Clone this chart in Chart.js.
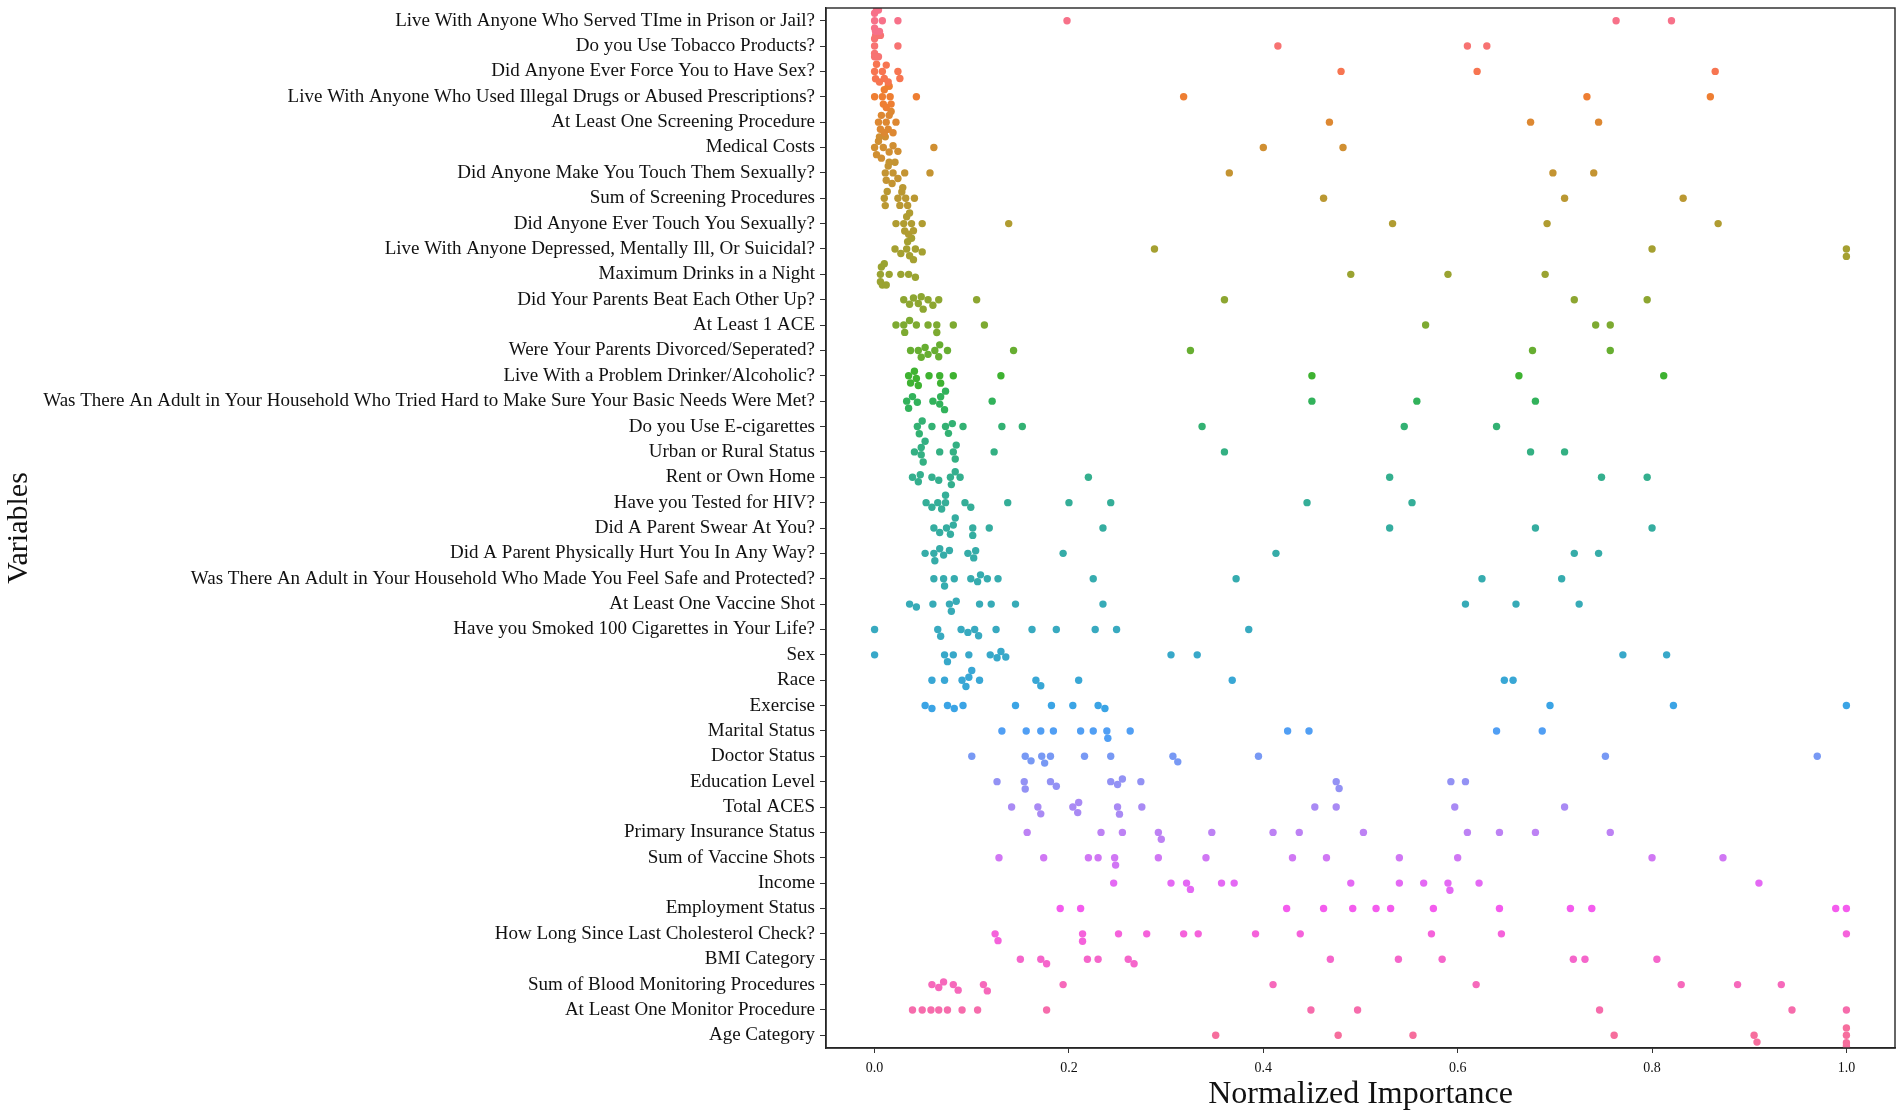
<!DOCTYPE html>
<html>
<head>
<meta charset="utf-8">
<script src="https://cdn.jsdelivr.net/npm/chart.js@4.4.1/dist/chart.umd.min.js"></script>
<style>
  html, body { margin: 0; padding: 0; background: #ffffff; }
  #wrap { width: 1902px; height: 1118px; }
</style>
</head>
<body>
<div id="wrap"><canvas id="swarmChart"></canvas></div>
<script>
// variable names, top to bottom
const variables = [
  "Live With Anyone Who Served TIme in Prison or Jail?",
  "Do you Use Tobacco Products?",
  "Did Anyone Ever Force You to Have Sex?",
  "Live With Anyone Who Used Illegal Drugs or Abused Prescriptions?",
  "At Least One Screening Procedure",
  "Medical Costs",
  "Did Anyone Make You Touch Them Sexually?",
  "Sum of Screening Procedures",
  "Did Anyone Ever Touch You Sexually?",
  "Live With Anyone Depressed, Mentally Ill, Or Suicidal?",
  "Maximum Drinks in a Night",
  "Did Your Parents Beat Each Other Up?",
  "At Least 1 ACE",
  "Were Your Parents Divorced/Seperated?",
  "Live With a Problem Drinker/Alcoholic?",
  "Was There An Adult in Your Household Who Tried Hard to Make Sure Your Basic Needs Were Met?",
  "Do you Use E-cigarettes",
  "Urban or Rural Status",
  "Rent or Own Home",
  "Have you Tested for HIV?",
  "Did A Parent Swear At You?",
  "Did A Parent Physically Hurt You In Any Way?",
  "Was There An Adult in Your Household Who Made You Feel Safe and Protected?",
  "At Least One Vaccine Shot",
  "Have you Smoked 100 Cigarettes in Your Life?",
  "Sex",
  "Race",
  "Exercise",
  "Marital Status",
  "Doctor Status",
  "Education Level",
  "Total ACES",
  "Primary Insurance Status",
  "Sum of Vaccine Shots",
  "Income",
  "Employment Status",
  "How Long Since Last Cholesterol Check?",
  "BMI Category",
  "Sum of Blood Monitoring Procedures",
  "At Least One Monitor Procedure",
  "Age Category"
];

// normalized importance values, one row per variable (same order)
const importance = [
  [0.0, 0.0, 0.0, 0.001, 0.002, 0.003, 0.004, 0.005, 0.008, 0.024, 0.198, 0.763, 0.82],
  [0.0, 0.0, 0.0, 0.0, 0.001, 0.002, 0.003, 0.004, 0.006, 0.024, 0.415, 0.61, 0.63],
  [0.0, 0.001, 0.002, 0.005, 0.008, 0.01, 0.012, 0.014, 0.024, 0.026, 0.48, 0.62, 0.865],
  [0.0, 0.008, 0.009, 0.01, 0.012, 0.014, 0.015, 0.016, 0.017, 0.043, 0.318, 0.733, 0.86],
  [0.004, 0.006, 0.007, 0.01, 0.012, 0.014, 0.015, 0.017, 0.019, 0.022, 0.468, 0.675, 0.745],
  [0.0, 0.002, 0.004, 0.005, 0.007, 0.009, 0.011, 0.015, 0.019, 0.024, 0.061, 0.40, 0.482],
  [0.011, 0.012, 0.014, 0.015, 0.018, 0.019, 0.021, 0.024, 0.031, 0.057, 0.365, 0.698, 0.74],
  [0.01, 0.011, 0.013, 0.024, 0.026, 0.028, 0.029, 0.032, 0.034, 0.041, 0.462, 0.71, 0.832],
  [0.022, 0.03, 0.031, 0.033, 0.035, 0.036, 0.038, 0.04, 0.049, 0.138, 0.533, 0.692, 0.868],
  [0.021, 0.027, 0.033, 0.034, 0.036, 0.038, 0.04, 0.042, 0.049, 0.288, 0.80, 1.0, 1.0],
  [0.006, 0.006, 0.007, 0.008, 0.01, 0.012, 0.015, 0.027, 0.035, 0.042, 0.49, 0.59, 0.69],
  [0.03, 0.036, 0.04, 0.045, 0.048, 0.05, 0.055, 0.06, 0.066, 0.105, 0.36, 0.72, 0.795],
  [0.022, 0.03, 0.031, 0.036, 0.043, 0.055, 0.064, 0.064, 0.081, 0.113, 0.567, 0.742, 0.757],
  [0.037, 0.045, 0.048, 0.052, 0.055, 0.062, 0.066, 0.067, 0.075, 0.143, 0.325, 0.677, 0.757],
  [0.035, 0.037, 0.041, 0.043, 0.045, 0.056, 0.067, 0.068, 0.081, 0.13, 0.45, 0.663, 0.812],
  [0.033, 0.035, 0.039, 0.044, 0.06, 0.067, 0.068, 0.072, 0.073, 0.121, 0.45, 0.558, 0.68],
  [0.044, 0.046, 0.049, 0.059, 0.073, 0.076, 0.08, 0.091, 0.131, 0.152, 0.337, 0.545, 0.64],
  [0.041, 0.048, 0.048, 0.05, 0.052, 0.067, 0.081, 0.083, 0.084, 0.123, 0.36, 0.675, 0.71],
  [0.039, 0.045, 0.047, 0.059, 0.066, 0.078, 0.079, 0.083, 0.088, 0.22, 0.53, 0.748, 0.795],
  [0.053, 0.059, 0.065, 0.069, 0.073, 0.073, 0.093, 0.099, 0.137, 0.2, 0.243, 0.445, 0.553],
  [0.061, 0.067, 0.074, 0.078, 0.081, 0.083, 0.101, 0.101, 0.118, 0.235, 0.53, 0.68, 0.80],
  [0.052, 0.061, 0.062, 0.067, 0.071, 0.077, 0.096, 0.102, 0.104, 0.194, 0.413, 0.72, 0.745],
  [0.061, 0.071, 0.072, 0.082, 0.099, 0.106, 0.109, 0.116, 0.127, 0.225, 0.372, 0.625, 0.707],
  [0.036, 0.043, 0.06, 0.077, 0.079, 0.084, 0.108, 0.12, 0.145, 0.235, 0.608, 0.66, 0.725],
  [0.0, 0.065, 0.068, 0.089, 0.096, 0.103, 0.107, 0.125, 0.162, 0.187, 0.227, 0.249, 0.385],
  [0.0, 0.072, 0.075, 0.081, 0.097, 0.119, 0.126, 0.13, 0.135, 0.305, 0.332, 0.77, 0.815],
  [0.059, 0.072, 0.09, 0.094, 0.097, 0.1, 0.108, 0.166, 0.171, 0.21, 0.368, 0.648, 0.657],
  [0.052, 0.059, 0.075, 0.082, 0.091, 0.145, 0.182, 0.204, 0.23, 0.237, 0.695, 0.822, 1.0],
  [0.131, 0.156, 0.171, 0.184, 0.212, 0.225, 0.239, 0.24, 0.263, 0.425, 0.447, 0.64, 0.687],
  [0.1, 0.155, 0.161, 0.172, 0.175, 0.181, 0.216, 0.243, 0.307, 0.312, 0.395, 0.752, 0.97],
  [0.126, 0.154, 0.155, 0.181, 0.187, 0.243, 0.25, 0.255, 0.274, 0.475, 0.478, 0.593, 0.608],
  [0.141, 0.168, 0.171, 0.204, 0.209, 0.21, 0.25, 0.252, 0.275, 0.453, 0.475, 0.597, 0.71],
  [0.157, 0.233, 0.255, 0.292, 0.295, 0.347, 0.41, 0.437, 0.503, 0.61, 0.643, 0.68, 0.757],
  [0.128, 0.174, 0.22, 0.23, 0.247, 0.248, 0.292, 0.341, 0.43, 0.465, 0.54, 0.6, 0.8, 0.873],
  [0.246, 0.305, 0.321, 0.325, 0.357, 0.37, 0.49, 0.54, 0.565, 0.59, 0.592, 0.622, 0.91],
  [0.191, 0.212, 0.424, 0.462, 0.492, 0.516, 0.531, 0.575, 0.643, 0.716, 0.738, 0.989, 1.0],
  [0.124, 0.127, 0.214, 0.214, 0.251, 0.28, 0.318, 0.333, 0.392, 0.438, 0.573, 0.645, 1.0],
  [0.15, 0.171, 0.177, 0.219, 0.23, 0.261, 0.267, 0.469, 0.539, 0.584, 0.719, 0.731, 0.805],
  [0.059, 0.066, 0.071, 0.081, 0.086, 0.112, 0.116, 0.194, 0.41, 0.619, 0.83, 0.888, 0.933],
  [0.039, 0.049, 0.058, 0.066, 0.075, 0.09, 0.106, 0.177, 0.449, 0.497, 0.746, 0.944, 1.0],
  [0.351, 0.477, 0.554, 0.761, 0.905, 0.908, 1.0, 1.0, 1.0, 1.0]
];

const xTickValues = [0.0, 0.2, 0.4, 0.6, 0.8, 1.0];

// husl -> rgb (same maths as the husl module seaborn uses)
const M = [[3.2406, -1.5372, -0.4986], [-0.9689, 1.8758, 0.0415], [0.0557, -0.2040, 1.0570]];
const refU = 0.19784, refV = 0.46834, labE = 0.008856, labK = 903.3;

function maxChroma(L, H) {
  const hr = H / 360 * 2 * Math.PI, sinH = Math.sin(hr), cosH = Math.cos(hr);
  const sub1 = Math.pow(L + 16, 3) / 1560896.0;
  const sub2 = sub1 > labE ? sub1 : L / labK;
  let result = Infinity;
  M.forEach(([m1, m2, m3]) => {
    const top = (0.99915 * m1 + 1.05122 * m2 + 1.14460 * m3) * sub2;
    const rb = 0.86330 * m3 - 0.17266 * m2;
    const lb = 0.12949 * m3 - 0.38848 * m1;
    const bottom = (rb * sinH + lb * cosH) * sub2;
    [0, 1].forEach(t => {
      const C = L * (top - 1.05122 * t) / (bottom + 0.17266 * sinH * t);
      if (C > 0 && C < result) result = C;
    });
  });
  return result;
}

function huslToRgb(H, S, L) {
  const C = maxChroma(L, H) / 100 * S;
  const hr = H / 360 * 2 * Math.PI;
  const U = Math.cos(hr) * C, V = Math.sin(hr) * C;
  const t = (L + 16) / 116;
  const Y = Math.pow(t, 3) > labE ? Math.pow(t, 3) : (116 * t - 16) / labK;
  const vu = U / (13 * L) + refU, vv = V / (13 * L) + refV;
  const X = -(9 * Y * vu) / ((vu - 4) * vv - vu * vv);
  const Z = (9 * Y - 15 * vv * Y - vv * X) / (3 * vv);
  const rgb = M.map(r => {
    const c = r[0] * X + r[1] * Y + r[2] * Z;
    const v = c <= 0.0031308 ? 12.92 * c : 1.055 * Math.pow(c, 1 / 2.4) - 0.055;
    return Math.round(Math.min(1, Math.max(0, v)) * 255);
  });
  return `rgb(${rgb[0]}, ${rgb[1]}, ${rgb[2]})`;
}

const palette = variables.map((_, i) => {
  const hue = ((i / variables.length + 0.01) % 1) * 359;
  return huslToRgb(hue, 0.9 * 99, 0.65 * 99);
});

// simple beeswarm: place sorted points as close to the row centre as possible
function swarmOffsets(pixels, d, limit) {
  const placed = [];
  return pixels.map(px => {
    const near = placed.filter(p => Math.abs(p.x - px) < d);
    const cands = [0];
    near.forEach(p => {
      const dy = Math.sqrt(d * d - (p.x - px) * (p.x - px));
      cands.push(p.y + dy, p.y - dy);
    });
    cands.sort((a, b) => Math.abs(a) - Math.abs(b));
    const y = cands.find(c => near.every(p => (p.x - px) ** 2 + (p.y - c) ** 2 >= d * d - 1e-6));
    placed.push({ x: px, y: y });
    return Math.max(-limit, Math.min(limit, y));
  });
}

const frameBox = {
  id: "frameBox",
  afterDraw(c) {
    const { ctx, chartArea: a } = c;
    ctx.save();
    ctx.strokeStyle = "#262626";
    ctx.lineWidth = 1.4;
    ctx.strokeRect(a.left, a.top, a.right - a.left, a.bottom - a.top);
    ctx.restore();
  }
};

const serif = "'Liberation Serif', 'Times New Roman', serif";
const ctx = document.getElementById("swarmChart").getContext("2d");

const chart = new Chart(ctx, {
  type: "scatter",
  data: {
    datasets: variables.map((name, i) => ({
      label: name,
      data: importance[i].map(v => ({ x: v, y: i })),
      backgroundColor: palette[i],
      borderWidth: 0,
      pointRadius: 3.7,
      pointHoverRadius: 3.7
    }))
  },
  options: {
    responsive: true,
    maintainAspectRatio: false,
    animation: false,
    devicePixelRatio: 1,
    layout: { padding: { left: 0, right: 7, top: 8, bottom: 0 } },
    plugins: { legend: { display: false }, tooltip: { enabled: false } },
    scales: {
      x: {
        type: "linear",
        min: -0.05,
        max: 1.05,
        afterBuildTicks: s => { s.ticks = xTickValues.map(v => ({ value: v })); },
        afterFit: s => { s.height = 70; s.paddingLeft = 0; s.paddingRight = 0; },
        ticks: {
          callback: v => Number(v).toFixed(1),
          font: { family: serif, size: 14 },
          color: "#111",
          padding: 7,
          maxRotation: 0,
          autoSkip: false
        },
        grid: { drawOnChartArea: false, tickLength: 5, color: "#333" },
        border: { display: true, color: "#262626", width: 1.4 },
        title: {
          display: true,
          text: "Normalized Importance",
          font: { family: serif, size: 32, lineHeight: 1.2 },
          color: "#111",
          padding: { top: 0, bottom: 4 }
        }
      },
      y: {
        type: "linear",
        reverse: true,
        min: -0.5,
        max: 40.5,
        afterBuildTicks: s => { s.ticks = variables.map((_, i) => ({ value: i })); },
        afterFit: s => { s.width = 826; s.paddingTop = 0; s.paddingBottom = 0; },
        ticks: {
          callback: v => variables[v],
          font: { family: serif, size: 19 },
          color: "#111",
          padding: 5,
          autoSkip: false
        },
        grid: { drawOnChartArea: false, tickLength: 6, color: "#333" },
        border: { display: true, color: "#262626", width: 1.4 },
        title: {
          display: true,
          text: "Variables",
          font: { family: serif, size: 30, lineHeight: 1.2 },
          color: "#111",
          padding: { top: 1, bottom: 0 }
        }
      }
    }
  },
  plugins: [frameBox]
});

// second pass: spread the points of each row into a swarm using the laid-out scales
(function applySwarm() {
  const xs = chart.scales.x, ys = chart.scales.y;
  const rowPx = Math.abs(ys.getPixelForValue(1) - ys.getPixelForValue(0));
  chart.data.datasets.forEach((ds, i) => {
    const vals = importance[i];
    const order = vals.map((v, k) => k).sort((a, b) => vals[a] - vals[b]);
    const offs = swarmOffsets(order.map(k => xs.getPixelForValue(vals[k])), 7.4, rowPx * 0.42);
    ds.data = order.map((k, j) => ({ x: vals[k], y: i + offs[j] / rowPx }));
  });
  chart.update("none");
})();
</script>
</body>
</html>
